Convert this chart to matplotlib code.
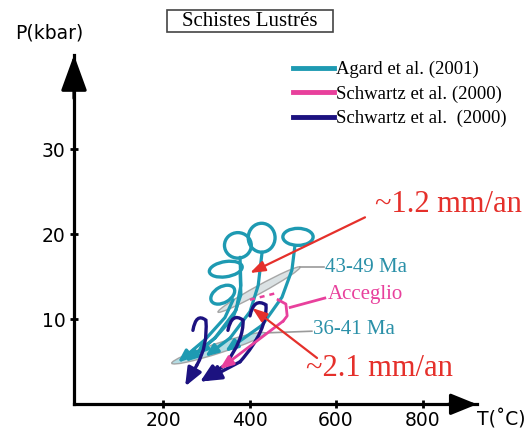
import numpy as np
import matplotlib
matplotlib.use("Agg")
import matplotlib.pyplot as plt
from matplotlib.patches import Ellipse, Rectangle, PathPatch
from matplotlib.path import Path
from matplotlib.transforms import Affine2D
from matplotlib.lines import Line2D

# couleurs
teal = "#1e9ab2"
teal_txt = "#2a90a8"
pink = "#e8409c"
navy = "#1c1280"
red = "#e5302b"
grey = "#9a9a9a"

# chemins P-T (T en °C, P en kbar)
# boucles au sommet : centre, demi-axe 1, demi-axe 2
loops = [
    ((373, 18.7), (31, 0.0), (0, 1.5)),
    ((428, 19.6), (31, 0.0), (0, 1.7)),
    ((512, 19.7), (35, 0.0), (0, 1.0)),
    ((345, 15.9), (38, 0.25), (0, 0.9)),
    ((338, 12.9), (26, 0.76), (-9.3, 0.81)),
]
teal_T = [
    [378, 380, 369, 320, 251],
    [429, 420, 401, 355, 297],
    [505, 498, 475, 429, 343],
    [378, 380, 362, 320, 274],
    [362, 343, 297, 234],
]
teal_P = [
    [17.3, 14.0, 11.1, 7.8, 5.0],
    [17.9, 14.0, 10.9, 7.8, 5.6],
    [18.7, 15.8, 12.6, 9.3, 6.2],
    [15.6, 12.9, 10.2, 7.8, 5.8],
    [12.3, 10.2, 7.6, 4.9],
]

# crochets : départ, contrôle, sommet, contrôle, fin de courbe, pointe
navy_T = [
    [269, 276, 299, 304, 278, 251],
    [350, 359, 385, 387, 343, 285],
    [401, 410, 438, 442, 378, 292],
]
navy_P = [
    [8.7, 10.8, 9.9, 6.9, 4.6, 2.1],
    [8.7, 10.9, 9.9, 7.6, 4.6, 2.6],
    [10.4, 12.6, 11.7, 8.7, 5.0, 2.7],
]

# Acceglio (Schwartz et al. 2000)
pink_lead_T = [574, 494]
pink_lead_P = [12.5, 11.4]
pink_brk_T = [466, 484, 487, 478]
pink_brk_P = [12.3, 11.8, 10.4, 9.8]
pink_arr_T = [478, 331]
pink_arr_P = [9.8, 4.15]
pink_dash_T = [401, 463]
pink_dash_P = [12.3, 13.1]

# zones grisées (centre, demi-axe 1, demi-axe 2)
zones = [
    ((422, 13.5), (95, 2.65), (4.4, -0.41), "#d5dde0"),
    ((328, 6.6), (108, 1.77), (3.5, -0.56), "#a8d6df"),
]

# vitesses d'exhumation
red_T = [[667, 401], [556, 406]]
red_P = [[22.0, 15.45], [5.45, 11.33]]
speeds = ["~1.2 mm/an", "~2.1 mm/an"]

# étiquettes d'âge
lead_T = [[517, 572], [436, 544]]
lead_P = [[16.15, 16.15], [8.4, 8.6]]

xticks = [200, 400, 600, 800]
yticks = [10, 20, 30]

fig = plt.figure(figsize=(5.26, 4.32), dpi=100)
ax = fig.add_axes([74 / 526, 27.7 / 432, 403 / 526, 349.3 / 432])
ax.set_xlim(-6, 926)
ax.set_ylim(0, 41.1)

for s in ["top", "right"]:
    ax.spines[s].set_visible(False)
for s in ["left", "bottom"]:
    ax.spines[s].set_linewidth(2.3)
ax.set_xticks(xticks)
ax.set_yticks(yticks)
ax.tick_params(direction="inout", length=6, width=2, labelsize=13.5)
ax.tick_params(axis="x", pad=1.5)
ax.tick_params(axis="y", pad=3)
ax.patch.set_alpha(0)

# flèches des axes
ax.annotate("", xy=(926, 0), xytext=(860, 0), annotation_clip=False,
            arrowprops=dict(arrowstyle="-|>,head_length=1.6,head_width=0.65",
                            mutation_scale=10, color="black", lw=2.3,
                            shrinkA=0, shrinkB=0))
ax.annotate("", xy=(-6, 41.1), xytext=(-6, 36), annotation_clip=False,
            arrowprops=dict(arrowstyle="-|>,head_length=2.2,head_width=0.8",
                            mutation_scale=10, color="black", lw=2.3,
                            shrinkA=0, shrinkB=0))

fig.text(49 / 526, 1 - 33 / 432, "P(kbar)", ha="center", va="center", fontsize=13.5)
fig.text(477 / 526, 1 - 420 / 432, "T(˚C)", ha="left", va="center", fontsize=13.5)

# zones grisées
for (c, a, b, fc) in zones:
    tr = Affine2D.from_values(a[0], a[1], b[0], b[1], c[0], c[1]) + ax.transData
    ax.add_patch(Ellipse((0, 0), 2, 2, transform=tr, fc=fc, ec=grey, lw=1,
                         alpha=0.85, zorder=2))

for lt, lp in zip(lead_T, lead_P):
    ax.plot(lt, lp, color=grey, lw=1.2, zorder=2, clip_on=False)

# chemins Agard et al. (2001)
for (c, a, b) in loops:
    tr = Affine2D.from_values(a[0], a[1], b[0], b[1], c[0], c[1]) + ax.transData
    ax.add_patch(Ellipse((0, 0), 2, 2, transform=tr, fill=False, ec=teal,
                         lw=2.4, zorder=3))
for tt, pp in zip(teal_T, teal_P):
    ax.plot(tt[:-1], pp[:-1], color=teal, lw=2.3, solid_capstyle="round",
            solid_joinstyle="round", zorder=3)
    ax.annotate("", xy=(tt[-1], pp[-1]), xytext=(tt[-2], pp[-2]),
                arrowprops=dict(arrowstyle="-|>,head_length=0.75,head_width=0.3",
                                mutation_scale=10, color=teal, lw=2.3,
                                shrinkA=0, shrinkB=0), zorder=3)

# chemins Schwartz et al. (2000)
codes = [Path.MOVETO, Path.CURVE3, Path.CURVE3, Path.CURVE3, Path.CURVE3]
for tt, pp in zip(navy_T, navy_P):
    hook = Path(np.column_stack([tt[:5], pp[:5]]), codes)
    ax.add_patch(PathPatch(hook, fill=False, ec=navy, lw=2.4, capstyle="round",
                           zorder=4))
    ax.annotate("", xy=(tt[5], pp[5]), xytext=(tt[4], pp[4]),
                arrowprops=dict(arrowstyle="-|>,head_length=1.1,head_width=0.45",
                                mutation_scale=10, color=navy, lw=2.4,
                                shrinkA=0, shrinkB=0), zorder=4)

ax.plot(pink_lead_T, pink_lead_P, color=pink, lw=2, zorder=4, clip_on=False)
ax.plot(pink_brk_T, pink_brk_P, color=pink, lw=2, zorder=4, solid_joinstyle="round")
ax.plot(pink_dash_T, pink_dash_P, color=pink, lw=1.8, ls=(0, (2, 2)), zorder=4)
ax.annotate("", xy=(pink_arr_T[1], pink_arr_P[1]), xytext=(pink_arr_T[0], pink_arr_P[0]),
            arrowprops=dict(arrowstyle="-|>,head_length=0.8,head_width=0.32",
                            mutation_scale=10, color=pink, lw=2,
                            shrinkA=0, shrinkB=0), zorder=4)

for tt, pp in zip(red_T, red_P):
    ax.annotate("", xy=(tt[1], pp[1]), xytext=(tt[0], pp[0]),
                arrowprops=dict(arrowstyle="-|>,head_length=0.9,head_width=0.32",
                                mutation_scale=10, color=red, lw=1.6,
                                shrinkA=0, shrinkB=0), zorder=5)

serif = "Liberation Serif"
fig.text(375 / 526, 1 - 205 / 432, speeds[0], color=red, fontsize=22,
         family=serif, ha="left", va="center")
fig.text(306 / 526, 1 - 369 / 432, speeds[1], color=red, fontsize=22,
         family=serif, ha="left", va="center")
fig.text(325 / 526, 1 - 267 / 432, "43-49 Ma", color=teal_txt, fontsize=15,
         family=serif, ha="left", va="center")
fig.text(328 / 526, 1 - 295 / 432, "Acceglio", color=pink, fontsize=15,
         family=serif, ha="left", va="center")
fig.text(313 / 526, 1 - 330 / 432, "36-41 Ma", color=teal_txt, fontsize=15,
         family=serif, ha="left", va="center")

# titre encadré
fig.text(250 / 526, 1 - 21 / 432, "Schistes Lustrés", fontsize=15, family=serif,
         ha="center", va="center")
fig.add_artist(Rectangle((167 / 526, 1 - 32 / 432), 166 / 526, 22 / 432,
                         transform=fig.transFigure, fill=False, ec="#444444", lw=1.2))

handles = [Line2D([], [], color=teal, lw=3.5),
           Line2D([], [], color=pink, lw=3.5),
           Line2D([], [], color=navy, lw=3.5)]
labels = ["Agard et al. (2001)", "Schwartz et al. (2000)", "Schwartz et al.  (2000)"]
fig.legend(handles, labels, loc="upper left", bbox_to_anchor=(293 / 526, 1 - 61 / 432),
           frameon=False, borderpad=0, borderaxespad=0, handlelength=2.2,
           handletextpad=0.1, labelspacing=0.38, prop={"family": serif, "size": 13.5})

fig.savefig("out.png", dpi=100)
